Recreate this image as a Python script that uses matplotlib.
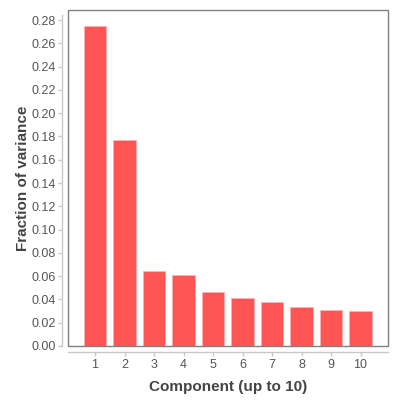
import matplotlib
matplotlib.use("Agg")
import matplotlib.pyplot as plt
from matplotlib.patches import Rectangle

components = [1, 2, 3, 4, 5, 6, 7, 8, 9, 10]
fractions = [0.275, 0.177, 0.0647, 0.0607, 0.0461, 0.0415, 0.0375, 0.0338, 0.0309, 0.0298]
yticks = [0.00, 0.02, 0.04, 0.06, 0.08, 0.10, 0.12, 0.14, 0.16, 0.18, 0.20, 0.22, 0.24, 0.26, 0.28]

plt.rcParams['font.family'] = ['Liberation Sans', 'DejaVu Sans']

fig = plt.figure(figsize=(4, 4), dpi=100)
ax = fig.add_axes([68/400, 54/400, 320/400, 336/400])

ax.bar(components, fractions, width=0.76, color='#ff5555', edgecolor='#ffb0b0', linewidth=0.7)

ax.set_xlim(0.085, 10.93)
ax.set_ylim(0, 0.2886)

# plot box
ax.add_patch(Rectangle((0, 0), 1, 1, transform=ax.transAxes, fill=False,
                       edgecolor='#808080', linewidth=1.0, clip_on=False, zorder=5))

for s in ['top', 'right']:
    ax.spines[s].set_visible(False)
for s in ['left', 'bottom']:
    ax.spines[s].set_position(('outward', 4))
    ax.spines[s].set_color('#c8c8c8')
    ax.spines[s].set_linewidth(1.0)
ax.spines['left'].set_bounds(0, 0.284)

ax.set_xticks(components)
ax.set_xticklabels([str(c) for c in components])
ax.set_yticks(yticks)
ax.set_yticklabels([f"{v:.2f}" for v in yticks])
ax.tick_params(axis='both', colors='#c8c8c8', labelcolor='#555555', labelsize=9,
               length=3, width=1.0, pad=2)

ax.set_xlabel('Component (up to 10)', fontsize=11, fontweight='bold', color='#444444', labelpad=6.5)
ax.set_ylabel('Fraction of variance', fontsize=11, fontweight='bold', color='#444444', labelpad=1)

fig.savefig('out.png', dpi=100)
